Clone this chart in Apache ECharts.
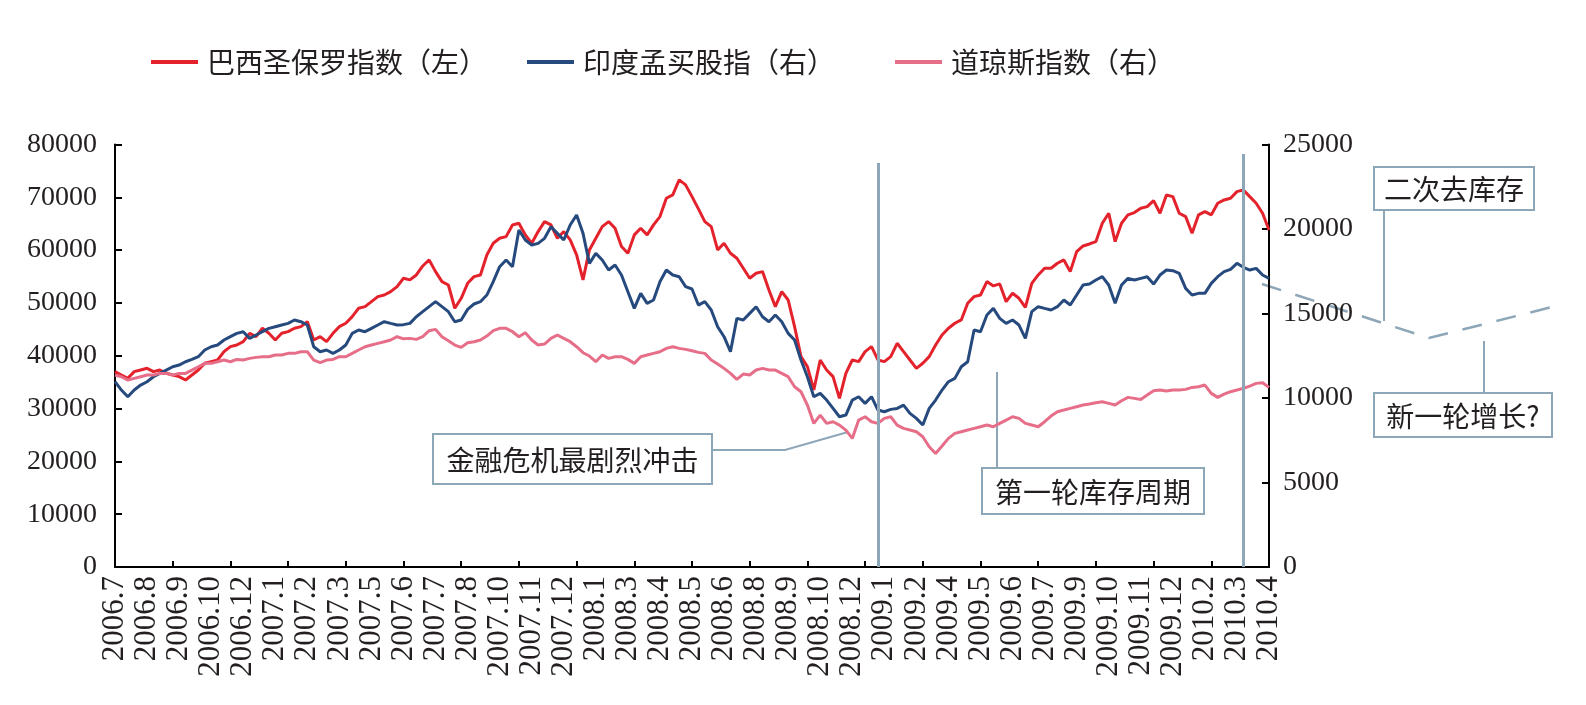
<!DOCTYPE html>
<html>
<head>
<meta charset="utf-8">
<script src="https://cdn.jsdelivr.net/npm/echarts@6/dist/echarts.min.js"></script>
<style>
html,body{margin:0;padding:0;background:#fff;}
#main{width:1586px;height:705px;}
</style>
</head>
<body>
<div id="main"></div>
<script>
// Tick labels shown on the category axis (one every 5 data points)
var tickLabels = ['2006.7','2006.8','2006.9','2006.10','2006.12','2007.1','2007.2','2007.3','2007.5','2007.6','2007.7','2007.8','2007.10','2007.11','2007.12','2008.1','2008.3','2008.4','2008.5','2008.6','2008.8','2008.9','2008.10','2008.12','2009.1','2009.2','2009.4','2009.5','2009.6','2009.7','2009.9','2009.10','2009.11','2009.12','2010.2','2010.3','2010.4'];

// Bovespa (left axis)
var bovespa = [36990,36360,35730,36990,37310,37620,36990,37310,36680,36360,36050,35410,36360,37310,38570,38890,39200,40780,41730,42040,42670,44250,43620,45200,44250,42990,44250,44570,45200,45520,46470,42990,43620,42670,44250,45520,46150,47410,48990,49300,50250,51200,51510,52140,53090,54670,54360,55300,57000,58140,55930,54040,53400,48990,50880,53720,54980,55300,59090,61300,62240,62560,64770,65090,62880,61300,63510,65400,64770,62240,63510,61930,59090,54360,60040,62240,64450,65400,64130,60670,59400,62880,64130,62880,64770,66350,69820,70450,73290,72350,70130,67800,65400,64450,60040,61300,59400,58460,56560,54670,55620,55930,52460,49300,52140,50560,45520,39830,37940,33520,39200,37310,36050,31940,36680,39200,38890,40780,41730,39200,38890,39830,42360,40780,39200,37620,38570,39830,42040,43940,45200,46150,46780,49930,51200,51500,54040,53220,53600,50250,51830,50880,49180,53720,55300,56560,56560,57510,58140,55930,59720,60790,61170,61610,65090,66980,61610,65090,66670,67110,67930,68240,69380,66980,70450,70130,66980,66350,63190,66670,67300,66670,68870,69500,69820,71080,71400,70130,68870,66980,63820];

// Sensex (right axis)
var sensex = [10964,10470,10076,10470,10766,10964,11260,11457,11654,11851,11950,12147,12285,12443,12838,13035,13134,13430,13627,13824,13923,13528,13726,13923,14120,14219,14318,14416,14614,14515,14318,13035,12739,12838,12641,12838,13134,13824,14022,13923,14120,14318,14515,14416,14318,14340,14416,14810,15107,15403,15699,15403,15107,14515,14614,15245,15561,15699,16093,16883,17770,18165,17770,19941,19349,19053,19152,19447,20138,19743,19349,20237,20829,19743,17968,18560,18165,17573,17869,17277,16291,15304,16193,15600,15797,16883,17573,17277,17178,16587,16450,15500,15699,15206,14219,13627,12739,14713,14614,15008,15403,14810,14515,14910,14515,13824,13430,12246,11260,10076,10273,9878,9385,8892,8990,9878,10076,9681,10076,9286,9188,9326,9385,9582,9089,8793,8399,9385,9878,10470,10964,11161,11851,12147,14022,13923,14909,15304,14713,14416,14614,14318,13528,15107,15403,15304,15206,15403,15797,15502,16093,16685,16744,16981,17178,16685,15600,16685,17080,16981,17080,17178,16744,17277,17573,17534,17376,16488,16093,16193,16193,16784,17178,17474,17612,17968,17731,17573,17672,17277,17080];

// Dow Jones (right axis)
var dow = [11358,11260,11062,11161,11260,11358,11358,11457,11457,11358,11457,11457,11654,11851,12049,12049,12147,12246,12147,12285,12246,12345,12404,12443,12443,12542,12542,12641,12641,12739,12739,12246,12088,12246,12285,12443,12443,12641,12838,13035,13134,13233,13331,13430,13627,13500,13528,13469,13627,13982,14061,13627,13390,13134,12996,13272,13331,13430,13666,13982,14120,14120,13923,13627,13863,13430,13134,13193,13528,13726,13528,13331,13035,12680,12483,12147,12542,12345,12443,12443,12285,12049,12443,12542,12641,12739,12936,13035,12936,12877,12800,12700,12641,12246,12009,11753,11457,11102,11417,11358,11654,11753,11654,11654,11457,11260,10667,10371,9582,8497,8990,8497,8596,8399,8102,7609,8694,8892,8596,8497,8793,8892,8399,8201,8102,8004,7708,7116,6721,7156,7609,7905,8004,8102,8201,8300,8399,8300,8497,8694,8892,8793,8497,8399,8300,8596,8931,9188,9286,9385,9484,9582,9641,9720,9779,9681,9582,9838,10036,9977,9917,10174,10431,10470,10411,10470,10470,10510,10628,10667,10766,10273,10036,10234,10372,10470,10569,10707,10865,10904,10628];

var seriesNames = ['巴西圣保罗指数（左）','印度孟买股指（右）','道琼斯指数（右）'];
var leftTicks = {min:0, max:80000, interval:10000};
var rightTicks = {min:0, max:25000, interval:5000};

// category axis: one entry per data point, labelled every 5th point
var categories = [];
for (var i = 0; i < bovespa.length; i++) {
  categories.push(i % 5 === 0 ? tickLabels[i / 5] : tickLabels[Math.floor(i / 5)] + '·' + (i % 5));
}

var serif = '"Liberation Serif","DejaVu Serif",serif';
var cjk = '"Noto Sans CJK SC","Noto Sans",sans-serif';
var txt = '#231f20';
var annot = '#8da6b8';

var chart = echarts.init(document.getElementById('main'), null, {renderer:'canvas'});

function legendFor(name, left) {
  return {
    data:[name], left:left, top:47, padding:0,
    icon:'rect', itemWidth:47, itemHeight:4,
    textStyle:{fontFamily:cjk, fontSize:28, color:txt, lineHeight:30, padding:[0,0,0,4]}
  };
}

function box(x, y, w, h, text) {
  return {
    type:'group',
    children:[
      {type:'rect', shape:{x:x, y:y, width:w, height:h}, style:{fill:'#fff', stroke:annot, lineWidth:2}},
      {type:'text', x:x + w / 2, y:y + h / 2 + 1, style:{text:text, fontFamily:cjk, fontSize:28, fill:txt, align:'center', verticalAlign:'middle'}}
    ]
  };
}

function plain(v) { return String(v); }

var option = {
  backgroundColor:'#fff',
  animation:false,
  legend:[legendFor(seriesNames[0], 151), legendFor(seriesNames[1], 527), legendFor(seriesNames[2], 895)],
  grid:{left:115, right:317, top:144.5, bottom:138},
  xAxis:{
    type:'category', data:categories, boundaryGap:false,
    axisLine:{lineStyle:{color:'#000', width:2}},
    axisTick:{show:true, inside:true, length:6, interval:8, lineStyle:{color:'#000', width:2}},
    axisLabel:{interval:4, rotate:90, margin:9, fontFamily:serif, fontSize:31, color:txt,
      showMinLabel:true, showMaxLabel:true, hideOverlap:false,
      formatter:function(v){ return v.split('·')[0]; }},
    splitLine:{show:false}
  },
  yAxis:[
    {type:'value', min:leftTicks.min, max:leftTicks.max, interval:leftTicks.interval, position:'left',
     axisLine:{show:true, lineStyle:{color:'#000', width:2}},
     axisTick:{show:true, inside:true, length:7, lineStyle:{color:'#000', width:2}},
     axisLabel:{fontFamily:serif, fontSize:28, color:txt, margin:18, formatter:plain},
     splitLine:{show:false}},
    {type:'value', min:rightTicks.min, max:rightTicks.max, interval:rightTicks.interval, position:'right',
     axisLine:{show:true, lineStyle:{color:'#000', width:2}},
     axisTick:{show:true, inside:true, length:7, lineStyle:{color:'#000', width:2}},
     axisLabel:{fontFamily:serif, fontSize:28, color:txt, margin:14, formatter:plain},
     splitLine:{show:false}}
  ],
  series:[
    {name:seriesNames[0], type:'line', yAxisIndex:0, data:bovespa, symbol:'none',
     lineStyle:{color:'#e4222c', width:3}, itemStyle:{color:'#e4222c'},
     markLine:{symbol:'none', silent:true, label:{show:false}, animation:false,
       lineStyle:{color:annot, width:3, type:'solid'},
       data:[
         [{coord:[categories[119], 76500]},{coord:[categories[119], 0]}],
         [{coord:[categories[176], 78200]},{coord:[categories[176], 0]}]
       ]}},
    {name:seriesNames[1], type:'line', yAxisIndex:1, data:sensex, symbol:'none',
     lineStyle:{color:'#264a7d', width:3}, itemStyle:{color:'#264a7d'}},
    {name:seriesNames[2], type:'line', yAxisIndex:1, data:dow, symbol:'none',
     lineStyle:{color:'#e66e88', width:3}, itemStyle:{color:'#e66e88'}}
  ],
  graphic:[
    {type:'polyline', shape:{points:[[713,450],[785,450],[848,432]]}, style:{stroke:annot, lineWidth:2, fill:null}},
    box(433, 434, 279, 50, '金融危机最剧烈冲击'),
    {type:'line', shape:{x1:997, y1:372, x2:997, y2:468}, style:{stroke:annot, lineWidth:2}},
    box(982, 468, 222, 46, '第一轮库存周期'),
    {type:'polyline', shape:{points:[[1262,284],[1429,338],[1556,306]]}, style:{stroke:annot, lineWidth:2.5, fill:null, lineDash:[20,15]}},
    {type:'line', shape:{x1:1384, y1:210, x2:1384, y2:321}, style:{stroke:annot, lineWidth:2}},
    box(1374, 167, 160, 43, '二次去库存'),
    {type:'line', shape:{x1:1484, y1:341, x2:1484, y2:393}, style:{stroke:annot, lineWidth:2}},
    box(1374, 393, 178, 44, '新一轮增长?')
  ]
};
chart.setOption(option);
</script>
</body>
</html>
